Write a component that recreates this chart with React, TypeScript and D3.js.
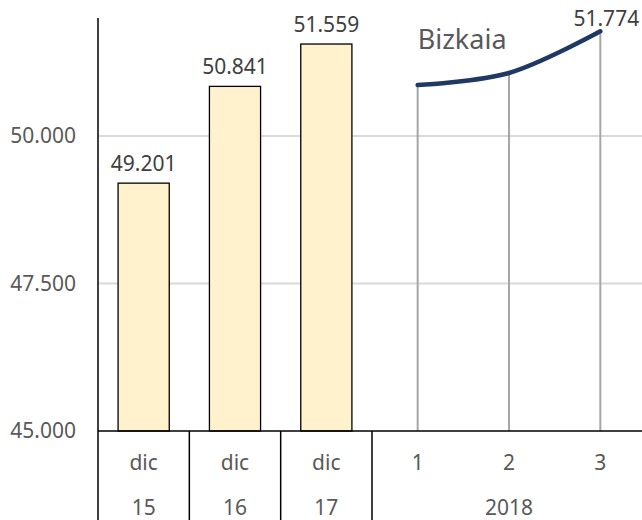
import * as d3 from "d3";
import React, { useEffect, useRef } from "react";

// data
const barCats = ["dic 15", "dic 16", "dic 17"];
const barValues = [49201, 50841, 51559];
const lineCats = ["1", "2", "3"];
const lineValues = [50864, 51068, 51774];
const topLabels = ["dic", "dic", "dic", "1", "2", "3"];
const bottomLabels = ["15", "16", "17"];
const groupLabel = "2018";
const yTicks = [45000, 47500, 50000];
const seriesName = "Bizkaia";

export default function App() {
  const svgRef = useRef<SVGSVGElement>(null);
  const width = 642;
  const height = 520;
  const margin = { top: 18, left: 98, bottomAxis: 431, right: -4 };

  useEffect(() => {
    const svg = d3.select(svgRef.current);
    svg.selectAll("*").remove();

    const font = "'Noto Sans', sans-serif";
    const fs = 21;
    const loc = d3.formatLocale({
      decimal: ",",
      thousands: ".",
      grouping: [3],
      currency: ["", "€"],
    });
    const fmt = loc.format(",.0f");

    const allCats = [...barCats, ...lineCats];
    const x = d3
      .scaleBand()
      .domain(allCats)
      .range([margin.left, width - margin.right])
      .padding(0);
    const y = d3
      .scaleLinear()
      .domain([45000, 52000])
      .range([margin.bottomAxis, margin.top]);

    const center = (c) => x(c) + x.bandwidth() / 2;

    // gridlines
    svg
      .append("g")
      .selectAll("line")
      .data(yTicks.filter((t) => t > 45000))
      .join("line")
      .attr("x1", margin.left)
      .attr("x2", width)
      .attr("y1", (d) => y(d))
      .attr("y2", (d) => y(d))
      .attr("stroke", "#d9d9d9")
      .attr("stroke-width", 2);

    // y tick labels
    svg
      .append("g")
      .selectAll("text")
      .data(yTicks)
      .join("text")
      .attr("x", margin.left - 22)
      .attr("y", (d) => y(d))
      .attr("dy", "0.35em")
      .attr("text-anchor", "end")
      .attr("font-family", font)
      .attr("font-size", fs)
      .attr("fill", "#595959")
      .text((d) => fmt(d));

    // bars
    const barW = x.bandwidth() * 0.56;
    svg
      .append("g")
      .selectAll("rect")
      .data(barValues)
      .join("rect")
      .attr("x", (d, i) => center(barCats[i]) - barW / 2)
      .attr("y", (d) => y(d))
      .attr("width", barW)
      .attr("height", (d) => y(45000) - y(d))
      .attr("fill", "#fff2cc")
      .attr("stroke", "#000")
      .attr("stroke-width", 1.3);

    svg
      .append("g")
      .selectAll("text")
      .data(barValues)
      .join("text")
      .attr("x", (d, i) => center(barCats[i]))
      .attr("y", (d) => y(d) - 12)
      .attr("text-anchor", "middle")
      .attr("font-family", font)
      .attr("font-size", fs)
      .attr("fill", "#404040")
      .text((d) => fmt(d));

    // drop lines
    svg
      .append("g")
      .selectAll("line")
      .data(lineValues)
      .join("line")
      .attr("x1", (d, i) => center(lineCats[i]))
      .attr("x2", (d, i) => center(lineCats[i]))
      .attr("y1", (d) => y(d))
      .attr("y2", y(45000))
      .attr("stroke", "#a6a6a6")
      .attr("stroke-width", 2);

    // line
    const line = d3
      .line<number>()
      .x((d, i) => center(lineCats[i]))
      .y((d) => y(d))
      .curve(d3.curveCatmullRom.alpha(0.5));
    svg
      .append("path")
      .attr("d", line(lineValues))
      .attr("fill", "none")
      .attr("stroke", "#1f3864")
      .attr("stroke-width", 4.5)
      .attr("stroke-linecap", "round");

    const last = lineValues.length - 1;
    svg
      .append("text")
      .attr("x", center(lineCats[last]) + 6)
      .attr("y", y(lineValues[last]) - 5)
      .attr("text-anchor", "middle")
      .attr("font-family", font)
      .attr("font-size", fs)
      .attr("fill", "#404040")
      .text(fmt(lineValues[last]));

    svg
      .append("text")
      .attr("x", center(lineCats[0]))
      .attr("y", 49)
      .attr("font-family", font)
      .attr("font-size", 27)
      .attr("fill", "#595959")
      .text(seriesName);

    // axes
    svg
      .append("line")
      .attr("x1", margin.left)
      .attr("x2", margin.left)
      .attr("y1", margin.top)
      .attr("y2", height)
      .attr("stroke", "#000")
      .attr("stroke-width", 1.5);
    svg
      .append("line")
      .attr("x1", margin.left)
      .attr("x2", width)
      .attr("y1", y(45000))
      .attr("y2", y(45000))
      .attr("stroke", "#000")
      .attr("stroke-width", 1.5);

    // category separators (below axis)
    const seps = [...barCats.slice(1), lineCats[0]].map((c) => x(c));
    svg
      .append("g")
      .selectAll("line")
      .data(seps)
      .join("line")
      .attr("x1", (d) => d)
      .attr("x2", (d) => d)
      .attr("y1", y(45000))
      .attr("y2", height)
      .attr("stroke", "#000")
      .attr("stroke-width", 1.5);

    svg
      .append("g")
      .selectAll("text")
      .data(topLabels)
      .join("text")
      .attr("x", (d, i) => center(allCats[i]))
      .attr("y", 470)
      .attr("text-anchor", "middle")
      .attr("font-family", font)
      .attr("font-size", fs)
      .attr("fill", "#595959")
      .text((d) => d);

    svg
      .append("g")
      .selectAll("text")
      .data(bottomLabels)
      .join("text")
      .attr("x", (d, i) => center(barCats[i]))
      .attr("y", 515)
      .attr("text-anchor", "middle")
      .attr("font-family", font)
      .attr("font-size", fs)
      .attr("fill", "#595959")
      .text((d) => d);

    svg
      .append("text")
      .attr("x", center(lineCats[1]))
      .attr("y", 515)
      .attr("text-anchor", "middle")
      .attr("font-family", font)
      .attr("font-size", fs)
      .attr("fill", "#595959")
      .text(groupLabel);
  }, []);

  return (
    <svg
      ref={svgRef}
      width={width}
      height={height}
      style={{ position: "absolute", left: 0, top: 0, background: "#fff" }}
    ></svg>
  );
}
